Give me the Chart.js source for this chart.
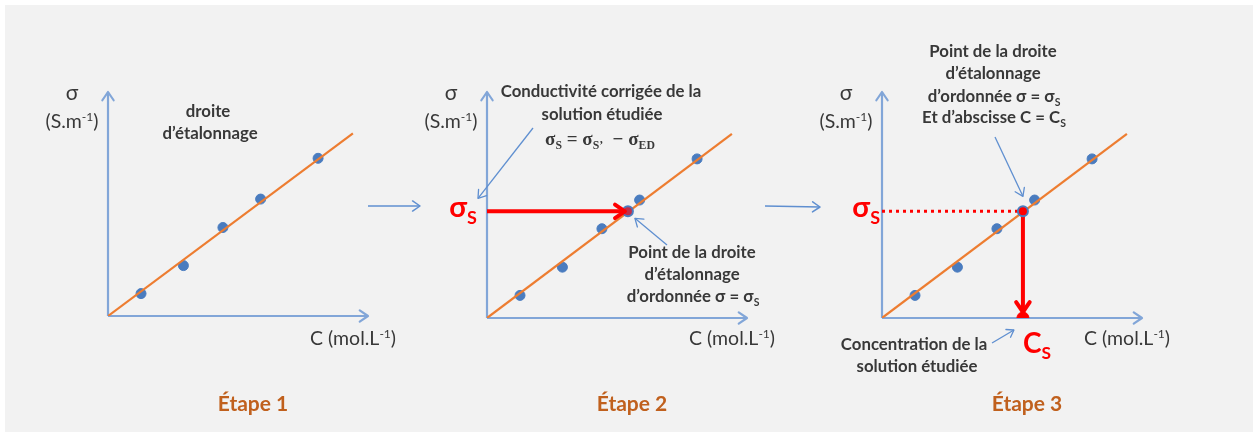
<!DOCTYPE html>
<html>
<head>
<meta charset="utf-8">
<script src="https://cdn.jsdelivr.net/npm/chart.js@4.4.1/dist/chart.umd.min.js"></script>
<style>
  html, body { margin: 0; padding: 0; background: #fff; }
  #wrap { position: relative; width: 1253px; height: 432px; overflow: hidden; }
  #bg { position: absolute; left: 5px; top: 5px; right: 0; bottom: 0; background: #f2f2f2; }
  canvas { position: absolute; left: 0; top: 0; }
</style>
</head>
<body>
<div id="wrap">
  <div id="bg"></div>
  <canvas id="step1" width="1253" height="432"></canvas>
  <canvas id="step2" width="1253" height="432"></canvas>
  <canvas id="step3" width="1253" height="432"></canvas>
</div>
<script>
// calibration standards (concentration, conductivity) - arbitrary units
const concCalib = [1.27, 2.9, 4.42, 5.87, 8.08];
const sigmaCalib = [1.0, 2.25, 3.95, 5.22, 7.04];
// fitted calibration line
const concFit = [0, 9.42];
const sigmaFit = [0, 8.15];
// studied solution
const concSample = 5.42;
const sigmaSample = 4.72;

const stepLabels = ['Étape 1', 'Étape 2', 'Étape 3'];

const FONT = 'Lato, "Open Sans", sans-serif';
const SERIF = '"Liberation Serif", "DejaVu Serif", serif';
const TEXT = '#383838';
const RED = '#ff0000';
const AXIS = '#82a6d8';
const ARROW = '#5f8fd0';
const ORANGE = '#ed7d31';
const DOT = '#4a7cbf';
const BROWN = '#c0601d';

// panel origins on the page (layout only)
const panels = [
  { id: 'step1', left: 108, bottom: 316, step: 0 },
  { id: 'step2', left: 487, bottom: 318, step: 1 },
  { id: 'step3', left: 882, bottom: 318, step: 2 },
];

function pts(xs, ys) {
  return xs.map((x, i) => ({ x: x, y: ys[i] }));
}

function head(ctx, x1, y1, x2, y2, size, color, width) {
  const a = Math.atan2(y2 - y1, x2 - x1);
  ctx.save();
  ctx.strokeStyle = color;
  ctx.lineWidth = width;
  ctx.lineCap = 'round';
  ctx.lineJoin = 'round';
  ctx.beginPath();
  ctx.moveTo(x2 - size * Math.cos(a - 0.6), y2 - size * Math.sin(a - 0.6));
  ctx.lineTo(x2, y2);
  ctx.lineTo(x2 - size * Math.cos(a + 0.6), y2 - size * Math.sin(a + 0.6));
  ctx.stroke();
  ctx.restore();
}

function arrow(ctx, x1, y1, x2, y2, color, width, size) {
  ctx.save();
  ctx.strokeStyle = color;
  ctx.lineWidth = width;
  ctx.beginPath();
  ctx.moveTo(x1, y1);
  ctx.lineTo(x2, y2);
  ctx.stroke();
  ctx.restore();
  head(ctx, x1, y1, x2, y2, size, color, width);
}

// parts: [text, 'sub' | 'sup' | ''] ; draws centered / left / right aligned rich text
function rich(ctx, parts, x, y, size, opts) {
  opts = opts || {};
  const weight = opts.bold ? 'bold ' : '';
  const fam = opts.family || FONT;
  const small = size * 0.62;
  const widths = parts.map(p => {
    ctx.font = weight + (p[1] ? small : size) + 'px ' + fam;
    return ctx.measureText(p[0]).width;
  });
  const total = widths.reduce((a, b) => a + b, 0);
  let cx = opts.align === 'left' ? x : opts.align === 'right' ? x - total : x - total / 2;
  ctx.save();
  ctx.fillStyle = opts.color || TEXT;
  ctx.textBaseline = 'alphabetic';
  ctx.textAlign = 'left';
  parts.forEach((p, i) => {
    ctx.font = weight + (p[1] ? small : size) + 'px ' + fam;
    let dy = 0;
    if (p[1] === 'sub') dy = size * 0.22;
    if (p[1] === 'sup') dy = -size * 0.38;
    ctx.fillText(p[0], cx, y + dy);
    cx += widths[i];
  });
  ctx.restore();
}

const sketch = {
  id: 'sketch',
  beforeDatasetsDraw(chart) {
    const { ctx, chartArea: a } = chart;
    // axes with open arrow heads
    arrow(ctx, a.left, a.bottom, a.left, a.top, AXIS, 2.2, 10);
    arrow(ctx, a.left, a.bottom, a.right, a.bottom, AXIS, 2.2, 10);
  },
  afterDatasetsDraw(chart, args, o) {
    const { ctx, chartArea: a, scales } = chart;
    const px = scales.x.getPixelForValue(concSample);
    const py = scales.y.getPixelForValue(sigmaSample);
    if (o.step === 1) {
      head(ctx, a.left, py, px - 3, py, 12, RED, 4);
    }
    if (o.step === 2) {
      head(ctx, px, py, px, a.bottom - 6, 12, RED, 4);
    }
  },
  afterDraw(chart, args, o) {
    const { ctx, chartArea: a, scales } = chart;
    const px = scales.x.getPixelForValue(concSample);
    const py = scales.y.getPixelForValue(sigmaSample);
    const ox = a.left;
    const T = 16.8;

    rich(ctx, [['σ', '']], ox - 36, 100, 21);
    rich(ctx, [['(S.m', ''], ['-1', 'sup'], [')', '']], ox - 36, 128, 19.5);
    rich(ctx, [['C (mol.L', ''], ['-1', 'sup'], [')', '']], a.right - 58, 345, 19.5, { align: 'left' });
    rich(ctx, [[stepLabels[o.step], '']], ox + 145, 411, 21, { bold: true, color: BROWN });

    if (o.step === 0) {
      rich(ctx, [['droite', '']], 208, 117, T, { bold: true });
      rich(ctx, [['d’étalonnage', '']], 210, 139, T, { bold: true });
      arrow(ctx, a.right, 206, 420, 206, ARROW, 1.5, 9);
    }
    if (o.step === 1) {
      rich(ctx, [['Conductivité corrigée de la', '']], 601, 97, T, { bold: true });
      rich(ctx, [['solution étudiée', '']], 602, 120, T, { bold: true });
      rich(ctx, [['σ', ''], ['S', 'sub'], [' = σ', ''], ['S’', 'sub'], ['  − σ', ''], ['ED', 'sub']],
        600, 145, 19, { bold: true, family: SERIF });
      rich(ctx, [['Point de la droite', '']], 692, 258, T, { bold: true });
      rich(ctx, [['d’étalonnage', '']], 692, 280, T, { bold: true });
      rich(ctx, [['d’ordonnée σ = σ', ''], ['S', 'sub']], 693, 302, T, { bold: true });
      rich(ctx, [['σ', ''], ['S', 'sub']], ox - 24, py + 6, 29, { color: RED, bold: true });
      arrow(ctx, 533, 128, ox - 9, py - 13, ARROW, 1.3, 9);
      arrow(ctx, 667, 245, px + 7, py + 7, ARROW, 1.3, 9);
      arrow(ctx, 765, 206, 820, 207, ARROW, 1.5, 9);
    }
    if (o.step === 2) {
      rich(ctx, [['Point de la droite', '']], 993, 57, T, { bold: true });
      rich(ctx, [['d’étalonnage', '']], 993, 79, T, { bold: true });
      rich(ctx, [['d’ordonnée σ = σ', ''], ['S', 'sub']], 994, 102, T, { bold: true });
      rich(ctx, [['Et d’abscisse C = C', ''], ['S', 'sub']], 994, 123, T, { bold: true });
      rich(ctx, [['σ', ''], ['S', 'sub']], ox - 2, py + 6, 29, { color: RED, bold: true, align: 'right' });
      rich(ctx, [['C', ''], ['S', 'sub']], px + 14, 353, 28, { color: RED, bold: true });
      rich(ctx, [['Concentration de la', '']], 914, 350, T, { bold: true });
      rich(ctx, [['solution étudiée', '']], 917, 372, T, { bold: true });
      arrow(ctx, 995, 137, px, py - 15, ARROW, 1.3, 9);
      arrow(ctx, 992, 343, px - 9, a.bottom + 12, ARROW, 1.3, 8);
    }
  }
};

function datasetsFor(step) {
  const ds = [
    { type: 'line', data: pts(concFit, sigmaFit), borderColor: ORANGE, borderWidth: 2.2,
      pointRadius: 0, order: 2 },
    { type: 'scatter', data: pts(concCalib, sigmaCalib), backgroundColor: DOT, borderColor: DOT,
      pointRadius: 5, order: 3 },
  ];
  if (step === 1) {
    ds.push({ type: 'line', data: pts([0, concSample], [sigmaSample, sigmaSample]), borderColor: RED,
      borderWidth: 4, pointRadius: 0, order: 1 });
    ds.push({ type: 'scatter', data: pts([concSample], [sigmaSample]), backgroundColor: '#c0304a',
      borderColor: DOT, borderWidth: 2, pointRadius: 5, order: 0 });
  }
  if (step === 2) {
    ds.push({ type: 'line', data: pts([0, concSample], [sigmaSample, sigmaSample]), borderColor: RED,
      borderWidth: 3, borderDash: [3, 4], pointRadius: 0, order: 1 });
    ds.push({ type: 'line', data: pts([concSample, concSample], [sigmaSample, 0]), borderColor: RED,
      borderWidth: 4, pointRadius: 0, order: 1 });
    ds.push({ type: 'scatter', data: pts([concSample], [0]), backgroundColor: RED, borderColor: RED,
      pointRadius: 6, order: 0 });
    ds.push({ type: 'scatter', data: pts([concSample], [sigmaSample]), backgroundColor: RED,
      borderColor: DOT, borderWidth: 2, pointRadius: 5, order: 0 });
  }
  return ds;
}

panels.forEach(p => {
  new Chart(document.getElementById(p.id), {
    type: 'scatter',
    data: { datasets: datasetsFor(p.step) },
    options: {
      responsive: false,
      animation: false,
      events: [],
      layout: { padding: { left: p.left, right: 1253 - p.left - 260, top: 92, bottom: 432 - p.bottom } },
      scales: {
        x: { type: 'linear', min: 0, max: 10, display: false },
        y: { type: 'linear', min: 0, max: 10, display: false },
      },
      plugins: {
        legend: { display: false },
        tooltip: { enabled: false },
        sketch: { step: p.step },
      },
    },
    plugins: [sketch],
  });
});
</script>
</body>
</html>
